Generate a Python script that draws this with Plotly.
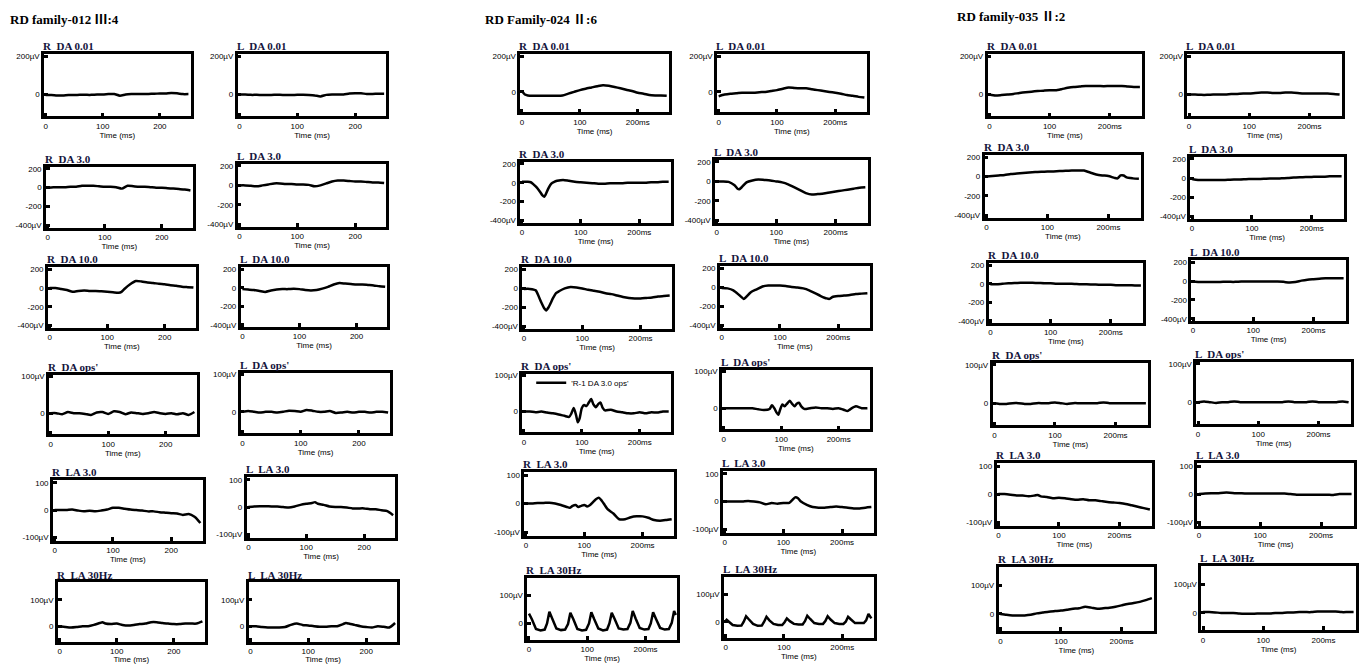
import plotly.graph_objects as go

W, H = 1359, 664

# ---------------- data (time in ms, amplitude in µV) ----------------
T10 = [0, 10, 20, 30, 40, 50, 60, 70, 80, 90, 100, 110, 120, 130, 140, 150,
       160, 170, 180, 190, 200, 210, 220, 230, 240, 250]

# Family 012
F1_R_DA001 = [-3, -3, -5, -5, -3, -3, -2, -2, -2, 0, 0, 2, 3, -6, 0, 2, 2, 3, 3, 4, 5, 5, 8, 6, 2, 2]
F1_L_DA001 = [0, 0, -2, -2, -3, -3, -2, -2, -3, -3, -2, -2, -3, -5, -10, -2, 0, 0, 0, 5, 6, 6, 3, 3, 4, 4]
F1_R_DA3 = [0, 5, 5, 5, 10, 10, 20, 20, 20, 15, 10, 10, 5, -10, 20, 15, 10, 10, 5, 0, 0, -5, -10, -15, -20, -30]
F1_L_DA3 = [0, 0, -5, -10, 0, 10, 20, 20, 15, 15, 10, 10, 5, -10, 0, 20, 40, 50, 50, 45, 40, 40, 35, 30, 30, 25]
F1_R_DA10_T = [0, 10, 20, 30, 40, 50, 60, 70, 80, 90, 100, 110, 120, 125, 130, 140, 150, 160, 170, 180, 190, 200, 210, 220, 230, 240, 250]
F1_R_DA10 = [0, 0, -10, -20, -40, -30, -25, -30, -30, -35, -40, -45, -50, -40, -10, 40, 75, 70, 60, 55, 45, 40, 30, 25, 15, 10, 5]
F1_L_DA10 = [-15, -20, -25, -35, -45, -30, -20, -15, -15, -10, -15, -25, -30, -25, -10, 10, 35, 50, 45, 40, 35, 35, 30, 25, 15, 10]
F1_R_OPS = [0, 0, -3, 3, 0, 0, -2, -5, 2, 3, -2, 5, 3, -3, 2, 0, -2, 0, 3, 0, -2, 0, -3, 0, -5, 3]
F1_L_OPS = [0, 2, 0, -2, 0, 0, -2, 0, 3, 2, 0, 5, 3, 0, 0, 2, -3, -2, 0, -2, 0, 0, -2, 0, 0, -2]
F1_R_LA3_T = [0, 10, 20, 30, 40, 50, 60, 70, 80, 90, 100, 110, 120, 130, 140, 150, 160, 170, 180, 190, 200, 210, 220, 230, 240, 245, 250]
F1_R_LA3 = [0, 0, 0, 2, -2, -5, -3, -5, -2, 2, 8, 8, 5, 2, 0, -2, -5, -5, -8, -10, -12, -13, -18, -15, -25, -35, -48]
F1_L_LA3_T = [0, 10, 20, 30, 40, 50, 60, 70, 80, 90, 100, 110, 115, 120, 130, 140, 150, 160, 170, 180, 190, 200, 210, 220, 230, 240, 250]
F1_L_LA3 = [0, 2, 3, 3, 2, 2, 0, -2, 2, 8, 12, 15, 18, 12, 8, 2, 0, 0, -2, -5, -5, -5, -8, -8, -12, -15, -30]
F1_R_30_T = [0, 10, 20, 30, 40, 50, 60, 70, 75, 80, 90, 100, 110, 120, 130, 140, 150, 160, 170, 180, 190, 200, 210, 220, 230, 240, 250]
F1_R_30 = [0, -3, -5, -3, 0, 0, 5, 12, 15, 10, 8, 10, 5, 3, 5, 8, 10, 15, 15, 12, 10, 8, 8, 10, 10, 10, 18]
F1_L_30_T = [0, 10, 20, 30, 40, 50, 60, 70, 80, 90, 100, 110, 120, 130, 140, 150, 160, 165, 170, 180, 190, 200, 210, 220, 230, 240, 250]
F1_L_30 = [0, 0, -3, -5, -5, -5, -3, 5, 10, 5, 3, 0, -2, -2, 0, 0, 8, 12, 10, 5, 0, -3, -5, 0, -2, -5, 12]

# Family 024
F2_R_DA001_T = [0, 5, 10, 20, 30, 40, 50, 60, 70, 80, 90, 100, 110, 120, 130, 140, 150, 160, 170, 180, 190, 200, 210, 220, 230, 240, 250]
F2_R_DA001 = [5, -15, -20, -22, -22, -22, -22, -22, -20, -10, 0, 10, 18, 25, 32, 38, 35, 28, 20, 12, 5, -5, -10, -18, -20, -20, -22]
F2_L_DA001 = [-25, -15, -10, -8, -5, -5, -5, -2, 0, 5, 10, 18, 25, 22, 20, 20, 15, 10, 5, 0, -5, -10, -18, -22, -28, -32]
F2_R_DA3_T = [0, 10, 15, 20, 25, 30, 35, 38, 40, 45, 50, 55, 60, 70, 80, 90, 100, 110, 120, 130, 140, 150, 160, 170, 180, 190, 200, 210, 220, 230, 240, 250]
F2_R_DA3 = [10, 10, 5, -20, -50, -90, -135, -150, -130, -60, -10, 10, 20, 30, 20, 10, 5, 0, -5, -10, -10, -5, -5, -5, 0, 0, 0, 0, 5, 5, 10, 10]
F2_L_DA3_T = [0, 10, 20, 30, 35, 38, 42, 50, 60, 70, 80, 90, 100, 110, 120, 130, 140, 150, 160, 170, 180, 190, 200, 210, 220, 230, 240, 250]
F2_L_DA3 = [0, 0, -5, -40, -75, -80, -60, -10, 10, 20, 15, 10, 0, -10, -30, -60, -90, -120, -135, -130, -125, -115, -105, -95, -85, -75, -65, -60]
F2_R_DA10_T = [0, 10, 20, 25, 30, 35, 38, 42, 50, 55, 60, 70, 80, 90, 100, 110, 120, 130, 140, 150, 160, 170, 180, 190, 200, 210, 220, 230, 240, 250]
F2_R_DA10 = [-5, -5, -20, -80, -150, -210, -230, -200, -100, -50, -30, 0, 15, 10, 0, -15, -25, -35, -50, -60, -75, -90, -100, -105, -105, -100, -95, -85, -80, -75]
F2_L_DA10_T = [0, 10, 20, 30, 38, 42, 50, 60, 70, 80, 90, 100, 110, 120, 130, 140, 150, 160, 170, 180, 185, 190, 200, 210, 220, 230, 240, 250]
F2_L_DA10 = [-5, -10, -30, -80, -120, -100, -50, -20, 10, 20, 20, 20, 15, 5, 0, -10, -30, -60, -90, -115, -120, -100, -90, -85, -80, -70, -65, -60]
F2_R_OPS_T = [0, 10, 20, 30, 40, 50, 60, 70, 78, 82, 86, 90, 93, 96, 100, 104, 108, 112, 116, 120, 124, 128, 132, 136, 140, 150, 160, 170, 180, 190, 200, 210, 220, 230, 240, 250]
F2_R_OPS = [0, 0, -2, 0, -3, -5, -8, -12, -15, -5, 10, -10, -30, -20, 10, 18, 15, 25, 35, 20, 12, 20, 25, 10, 3, 5, 0, -2, -5, -5, -2, -5, -2, -3, 0, 0]
F2_L_OPS_T = [0, 20, 40, 50, 60, 70, 80, 84, 88, 92, 95, 98, 102, 106, 110, 115, 119, 123, 127, 131, 135, 140, 150, 160, 170, 180, 190, 200, 210, 215, 220, 230, 240, 250]
F2_L_OPS = [0, 0, 0, 0, -3, -5, -2, 8, 0, -12, -18, -5, 10, 5, 12, 20, 12, 5, 12, 15, 5, -2, 0, 2, 0, 0, -2, 0, -5, -8, -3, 5, 0, 0]
F2_R_LA3_T = [0, 10, 20, 30, 40, 50, 60, 70, 75, 80, 85, 90, 95, 100, 105, 110, 115, 120, 125, 130, 135, 140, 150, 160, 170, 180, 190, 200, 210, 220, 230, 240, 250]
F2_R_LA3 = [0, 0, 2, 2, 3, 0, -5, -12, -15, -8, -5, -12, -8, -5, -10, -5, 5, 15, 20, 10, -5, -20, -35, -55, -55, -48, -45, -45, -50, -58, -60, -58, -55]
F2_L_LA3_T = [0, 10, 20, 30, 40, 50, 60, 70, 80, 90, 100, 110, 115, 120, 125, 130, 140, 150, 160, 170, 180, 190, 200, 210, 220, 230, 240, 250]
F2_L_LA3 = [0, 0, 0, 0, 2, 0, -3, -10, -5, -8, -5, -5, 5, 15, 12, 0, -12, -20, -22, -22, -20, -18, -20, -22, -25, -25, -22, -20]
F2_R_30_T = [0, 5, 12, 20, 27, 31, 35, 40, 47, 55, 62, 67, 71, 76, 83, 91, 98, 103, 107, 112, 119, 127, 134, 138, 142,
             147, 154, 162, 169, 174, 178, 183, 190, 198, 205, 209, 213, 218, 225, 233, 240, 245, 249, 252]
F2_R_30 = [35, 15, -20, -25, -22, 0, 42, 18, -18, -24, -22, -2, 38, 16, -20, -25, -23, 0, 40, 15, -18, -25, -22, 0, 38,
           16, -18, -22, -20, 2, 45, 18, -16, -22, -20, 0, 40, 16, -16, -22, -20, 2, 45, 30]
F2_L_30_T = [0, 5, 12, 20, 27, 31, 35, 40, 47, 55, 62, 66, 70, 75, 82, 90, 97, 101, 105, 110, 117, 125, 132, 136, 140,
             145, 152, 160, 167, 171, 175, 180, 187, 195, 202, 206, 210, 215, 222, 230, 237, 241, 245, 250]
F2_L_30 = [10, 0, -12, -15, -14, 0, 20, 8, -8, -15, -14, 0, 18, 5, -8, -12, -12, -2, 12, 2, -8, -10, -10, 2, 22,
           10, -5, -8, -8, 2, 20, 8, -5, -8, -8, 0, 18, 8, -5, -5, -5, 5, 28, 12]

# Family 035
F3_R_DA001 = [0, -5, -3, 0, 3, 8, 12, 15, 18, 20, 22, 22, 28, 35, 40, 42, 45, 45, 45, 44, 45, 45, 45, 42, 40, 40]
F3_L_DA001 = [0, 0, -2, -2, 0, 0, 0, 2, 3, 5, 5, 8, 10, 10, 8, 8, 10, 10, 8, 5, 5, 5, 5, 5, 3, 0]
F3_R_DA3_T = [0, 10, 20, 30, 40, 50, 60, 70, 80, 90, 100, 110, 120, 130, 140, 150, 160, 170, 180, 190, 200, 210, 215, 220, 225, 230, 240, 250]
F3_R_DA3 = [0, 5, 10, 15, 25, 30, 35, 40, 45, 48, 50, 52, 55, 58, 60, 62, 60, 40, 20, 10, 5, -15, -20, 10, 10, -10, -20, -25]
F3_L_DA3 = [-10, -20, -20, -20, -20, -20, -18, -15, -15, -12, -10, -10, -8, -5, -5, -2, 0, 5, 8, 10, 12, 15, 15, 18, 20, 20]
F3_R_DA10 = [-5, -5, 0, 5, 8, 10, 10, 10, 8, 5, 5, 0, 0, 0, -2, -5, -5, -8, -10, -10, -10, -15, -15, -15, -18, -18]
F3_L_DA10 = [-5, -10, -10, -10, -10, -8, -8, -8, -5, -5, -5, -5, -3, -5, -5, -8, -15, -10, 5, 15, 20, 25, 30, 30, 30, 30]
F3_R_OPS = [0, -2, -2, 0, 0, -2, -2, 0, 0, 0, 2, 0, -2, 0, 0, 0, 0, 0, 2, 0, 0, 0, 0, 0, 0, 0]
F3_L_OPS = [0, 2, 0, -2, 0, 0, 2, 0, 0, 0, 0, 0, 0, 0, 0, 2, 0, 0, 0, 2, 0, 0, 0, 0, 2, 0]
F3_R_LA3_T = [0, 10, 20, 30, 40, 50, 60, 65, 70, 80, 90, 100, 110, 120, 130, 140, 150, 160, 170, 180, 190, 200, 210, 220, 230, 240, 250]
F3_R_LA3 = [0, 0, -2, -5, -5, -8, -5, -3, -8, -10, -15, -13, -15, -18, -20, -18, -22, -22, -25, -28, -30, -32, -35, -40, -45, -50, -55]
F3_L_LA3 = [0, 2, 3, 3, 5, 5, 3, 3, 2, 2, 2, 2, 2, 2, 2, 0, -2, -2, -2, -2, -2, -2, -3, 0, 0, 0]
F3_R_30 = [0, -3, -5, -5, -5, -3, 2, 5, 8, 10, 12, 15, 18, 20, 25, 22, 18, 20, 22, 25, 30, 35, 38, 42, 48, 55]
F3_L_30 = [3, 3, 2, 0, 0, 0, -2, -3, -3, -2, -2, -2, 0, 0, 2, 2, 3, 3, 3, 5, 5, 5, 5, 3, 3, 3]

FAMILY_TITLES = ["RD family-012 Ⅲ:4", "RD Family-024 Ⅱ:6", "RD family-035 Ⅱ:2"]
ROW_NAMES = ["DA 0.01", "DA 3.0", "DA 10.0", "DA ops'", "LA 3.0", "LA 30Hz"]
X_TICKTEXT = [["0", "100", "200"], ["0", "100", "200ms"], ["0", "100", "200ms"]]
X_TICKVALS = [0, 100, 200]
Y_TICKVALS = [[200, 0], [200, 0, -200, -400], [200, 0, -200, -400], [100, 0], [100, 0, -100], [100, 0]]
Y_TICKTEXT = [["200µV", "0"], ["200", "0", "-200", "-400µV"], ["200", "0", "-200", "-400µV"],
              ["100µV", "0"], ["100", "0", "-100µV"], ["100µV", "0"]]
LEGEND_NAME = "'R-1 DA 3.0 ops'"

# traces: [family][row][side] -> (t, v)
TRACES = [
    [[(T10, F1_R_DA001), (T10, F1_L_DA001)],
     [(T10, F1_R_DA3), (T10, F1_L_DA3)],
     [(F1_R_DA10_T, F1_R_DA10), (T10, F1_L_DA10)],
     [(T10, F1_R_OPS), (T10, F1_L_OPS)],
     [(F1_R_LA3_T, F1_R_LA3), (F1_L_LA3_T, F1_L_LA3)],
     [(F1_R_30_T, F1_R_30), (F1_L_30_T, F1_L_30)]],
    [[(F2_R_DA001_T, F2_R_DA001), (T10, F2_L_DA001)],
     [(F2_R_DA3_T, F2_R_DA3), (F2_L_DA3_T, F2_L_DA3)],
     [(F2_R_DA10_T, F2_R_DA10), (F2_L_DA10_T, F2_L_DA10)],
     [(F2_R_OPS_T, F2_R_OPS), (F2_L_OPS_T, F2_L_OPS)],
     [(F2_R_LA3_T, F2_R_LA3), (F2_L_LA3_T, F2_L_LA3)],
     [(F2_R_30_T, F2_R_30), (F2_L_30_T, F2_L_30)]],
    [[(T10, F3_R_DA001), (T10, F3_L_DA001)],
     [(F3_R_DA3_T, F3_R_DA3), (T10, F3_L_DA3)],
     [(T10, F3_R_DA10), (T10, F3_L_DA10)],
     [(T10, F3_R_OPS), (T10, F3_L_OPS)],
     [(F3_R_LA3_T, F3_R_LA3), (T10, F3_L_LA3)],
     [(T10, F3_R_30), (T10, F3_L_30)]],
]

# ---------------- layout (pixel boxes: left, top, right, bottom) ----------------
BOXES = [
    [[(43, 52, 190, 115), (237, 52, 386, 115)],
     [(45, 166, 192, 227), (237, 163, 386, 226)],
     [(47, 267, 195, 328), (240, 267, 387, 327)],
     [(48, 375, 196, 435), (240, 373, 390, 434)],
     [(52, 481, 202, 542), (246, 478, 395, 539)],
     [(57, 584, 204, 644), (248, 584, 397, 644)]],
    [[(520, 52, 669, 111), (717, 52, 867, 111)],
     [(520, 161, 671, 222), (715, 159, 868, 222)],
     [(522, 267, 672, 329), (720, 266, 870, 328)],
     [(522, 374, 671, 433), (722, 370, 870, 430)],
     [(524, 473, 674, 537), (723, 472, 874, 534)],
     [(527, 579, 677, 642), (724, 578, 874, 640)]],
    [[(988, 52, 1143, 115), (1188, 52, 1343, 115)],
     [(985, 154, 1142, 217), (1191, 156, 1345, 218)],
     [(989, 263, 1144, 323), (1192, 260, 1347, 321)],
     [(993, 363, 1149, 426), (1197, 362, 1352, 425)],
     [(997, 464, 1153, 527), (1198, 464, 1355, 527)],
     [(999, 568, 1155, 633), (1202, 567, 1357, 632)]],
]
FAMILY_TITLE_POS = [(7, 18), (483, 18), (955, 15)]
Y_RANGES = [[-115, 215], [-425, 220], [-425, 220], [-58, 105], [-113, 110], [-60, 165]]
X_RANGE = [-3, 254]

SANS = "Liberation Sans, Arial, sans-serif"
SERIF = "Liberation Serif, Times New Roman, serif"

fig = go.Figure()
layout = dict(
    width=W, height=H, margin=dict(l=0, r=0, t=0, b=0),
    paper_bgcolor="white", plot_bgcolor="white",
)
annotations = []

n = 0
for f in range(3):
    fx, fy = FAMILY_TITLE_POS[f]
    annotations.append(dict(
        text="<b>" + FAMILY_TITLES[f] + "</b>", x=fx / W, y=1 - fy / H, xref="paper", yref="paper",
        xanchor="left", yanchor="middle", showarrow=False,
        font=dict(family=SERIF + ", Noto Sans CJK SC", size=13, color="black")))
    for r in range(6):
        for s in range(2):
            n += 1
            left, top, right, bottom = BOXES[f][r][s]
            t, v = TRACES[f][r][s]
            xa = "x" if n == 1 else "x%d" % n
            ya = "y" if n == 1 else "y%d" % n
            is_legend = (f == 1 and r == 3 and s == 0)
            shape = "linear" if r == 5 and f == 1 else "spline"
            fig.add_trace(go.Scatter(
                x=t, y=v, mode="lines", xaxis=xa, yaxis=ya,
                line=dict(color="black", width=2.5, shape=shape, smoothing=0.6),
                name=LEGEND_NAME, showlegend=is_legend, hoverinfo="skip"))
            key = "" if n == 1 else str(n)
            layout["xaxis" + key] = dict(
                domain=[left / W, right / W], anchor=ya, range=X_RANGE,
                showline=True, mirror=True, linecolor="black", linewidth=2.5,
                showgrid=False, zeroline=False,
                ticks="inside", ticklen=4, tickwidth=2.5, tickcolor="black",
                tickvals=X_TICKVALS, ticktext=X_TICKTEXT[f],
                tickfont=dict(family=SANS, size=8, color="black"),
                title=dict(text="Time (ms)", font=dict(family=SANS, size=8, color="black"), standoff=0),
                fixedrange=True)
            layout["yaxis" + key] = dict(
                domain=[1 - bottom / H, 1 - top / H], anchor=xa, range=Y_RANGES[r],
                showline=True, mirror=True, linecolor="black", linewidth=2.5,
                showgrid=False, zeroline=False,
                ticks="inside", ticklen=4, tickwidth=2.5, tickcolor="black",
                tickvals=Y_TICKVALS[r], ticktext=Y_TICKTEXT[r],
                tickfont=dict(family=SANS, size=8, color="black"),
                fixedrange=True)
            side = "R" if s == 0 else "L"
            annotations.append(dict(
                text="<b>" + side + "  " + ROW_NAMES[r] + "</b>",
                x=(left - 3) / W, y=1 - (top - 8) / H, xref="paper", yref="paper",
                xanchor="left", yanchor="middle", showarrow=False,
                font=dict(family=SERIF, size=11, color="#14143c")))

layout["annotations"] = annotations
layout["showlegend"] = True
layout["legend"] = dict(
    x=531 / W, y=1 - 383 / H, xanchor="left", yanchor="middle",
    bgcolor="rgba(0,0,0,0)", borderwidth=0, itemwidth=30,
    font=dict(family=SANS, size=8, color="black"))
fig.update_layout(**layout)

fig.write_html("out.html", config={"displayModeBar": False},
               post_script="document.body.style.margin='0';document.body.style.overflow='hidden';")
